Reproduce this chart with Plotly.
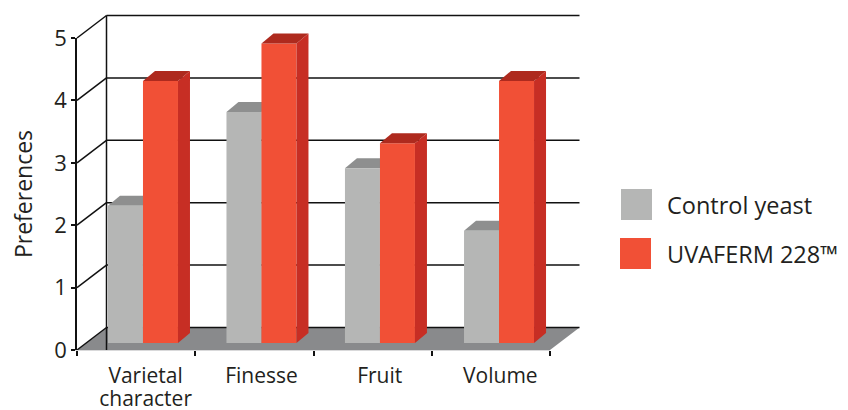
import plotly.graph_objects as go

LABEL_SPAN = '<span style="font-size:21px">{}</span>'
categories = [["Varietal", "character"], ["Finesse"], ["Fruit"], ["Volume"]]
control_yeast = [2.2, 3.7, 2.8, 1.8]
uvaferm_228 = [4.2, 4.8, 3.2, 4.2]
group_centers = [0.558, 1.56, 2.562, 3.569]
label_positions = [0.58, 1.56, 2.56, 3.58]
y_levels = [0, 1, 2, 3, 4, 5]
series_names = ["Control yeast", "UVAFERM 228™"]

W, H = 848, 410
L, R, T, B = 77, 550, 38, 350
PX_X = (R - L) / 4
PX_Y = (B - T) / 5
DX, DY = 29.5 / PX_X, 22.5 / PX_Y      # full depth of the box
BASE = 7 / PX_Y                        # bars stand on the floor, inset from its front edge
BW = 35 / PX_X                         # bar width
SX, SY = 12 / PX_X, 10 / PX_Y          # bar depth
FONT = "Open Sans"
TEXT = "#231f20"

GRAY, GRAY_TOP, GRAY_SIDE = "#b5b6b5", "#8e8f8f", "#909191"
RED, RED_TOP, RED_SIDE = "#f15036", "#ae2a1e", "#c72e24"
FLOOR = "#898a8c"

# full-page axes share the scale of the visible axes, so the box can overhang them
FULL_X = [-L / PX_X, (W - L) / PX_X]
FULL_Y = [(B - H) / PX_Y, B / PX_Y]

fig = go.Figure()

# floor (x/y = hidden full-page axes, lowest layer)
fig.add_trace(go.Scatter(x=[0, 4, 4 + DX, DX, 0], y=[0, 0, DY, DY, 0], mode="lines", fill="toself",
                         fillcolor=FLOOR, line=dict(width=0), hoverinfo="skip"))

# back wall gridlines and side-wall diagonals
gx, gy = [DX, DX, None], [0, 5 + DY, None]
for v in y_levels:
    gx += [0, DX, None]
    gy += [v, v + DY, None]
    gx += [DX, 4 + DX, None]
    gy += [v + DY, v + DY, None]
fig.add_trace(go.Scatter(x=gx, y=gy, mode="lines", line=dict(color="#111111", width=1.5),
                         hoverinfo="skip"))


def faces(centers, values, left, color_top, color_side, xaxis, yaxis):
    for c, v in zip(centers, values):
        x0, x1 = c + left, c + left + BW
        top = v + BASE
        fig.add_trace(go.Scatter(x=[x1, x1 + SX, x1 + SX, x1, x1], y=[BASE, BASE + SY, top + SY, top, BASE],
                                 mode="lines", fill="toself", fillcolor=color_side, line=dict(width=0),
                                 hoverinfo="skip", xaxis=xaxis, yaxis=yaxis))
        fig.add_trace(go.Scatter(x=[x0, x1, x1 + SX, x0 + SX, x0], y=[top, top, top + SY, top + SY, top],
                                 mode="lines", fill="toself", fillcolor=color_top, line=dict(width=0),
                                 hoverinfo="skip", xaxis=xaxis, yaxis=yaxis))


# gray side/top sit behind the red front faces
faces(group_centers, control_yeast, -BW, GRAY_TOP, GRAY_SIDE, "x", "y")

# front faces on the visible axes
fig.add_trace(go.Bar(x=group_centers, y=control_yeast, base=BASE, width=BW, offset=-BW, name=series_names[0],
                     marker=dict(color=GRAY, line=dict(width=0)), xaxis="x2", yaxis="y2"))
fig.add_trace(go.Bar(x=group_centers, y=uvaferm_228, base=BASE, width=BW, offset=0, name=series_names[1],
                     marker=dict(color=RED, line=dict(width=0)), xaxis="x2", yaxis="y2"))
# red side/top on the top full-page layer
faces(group_centers, uvaferm_228, 0, RED_TOP, RED_SIDE, "x3", "y3")

for color, (x0, x1, y0, y1) in zip([GRAY, RED], [(621, 652, 189, 220), (620, 651, 238, 269)]):
    fig.add_shape(type="rect", xref="paper", yref="paper", x0=x0 / W, x1=x1 / W, y0=1 - y0 / H, y1=1 - y1 / H,
                  fillcolor=color, line=dict(width=0))
for name, y in zip(series_names, [205, 254]):
    fig.add_annotation(text=name, xref="paper", yref="paper", x=665 / W, y=1 - y / H, xanchor="left",
                       yanchor="middle", showarrow=False, font=dict(family=FONT, size=23.5, color=TEXT))

hidden = dict(visible=False, domain=[0, 1], fixedrange=True)
fig.update_layout(
    width=W, height=H, autosize=False, showlegend=False, barmode="overlay",
    margin=dict(l=0, r=0, t=0, b=0, autoexpand=False),
    paper_bgcolor="white", plot_bgcolor="rgba(0,0,0,0)",
    xaxis=dict(range=FULL_X, anchor="y", **hidden),
    yaxis=dict(range=FULL_Y, anchor="x", **hidden),
    xaxis3=dict(range=FULL_X, anchor="y3", **hidden),
    yaxis3=dict(range=FULL_Y, anchor="x3", **hidden),
    xaxis2=dict(range=[0, 4], anchor="y2", domain=[L / W, R / W], tickmode="array", tickvals=label_positions,
                ticktext=["<br>".join(LABEL_SPAN.format(p) for p in c) for c in categories],
                ticks="", showgrid=False, zeroline=False, showline=True,
                linecolor="#d9d9da", linewidth=1, ticklabelstandoff=11,
                tickfont=dict(family=FONT, size=17.5, color=TEXT),
                minor=dict(tickmode="array", tickvals=[0, 1, 2, 3, 4], ticks="outside", ticklen=5, tickwidth=1.5,
                           tickcolor="#111111", showgrid=False)),
    yaxis2=dict(range=[0, 5], anchor="x2", domain=[1 - B / H, 1 - T / H], tickmode="array", tickvals=y_levels,
                ticks="outside", ticklen=4, tickwidth=1.5, tickcolor="#111111", showgrid=False, zeroline=False,
                showline=True, linecolor="#111111", linewidth=1.5,
                tickfont=dict(family=FONT, size=22, color=TEXT),
                title=dict(text="Preferences", standoff=15, font=dict(family=FONT, size=23, color=TEXT))),
)

fig.write_html("out.html", config={"displayModeBar": False},
               post_script="document.body.style.margin='0';")
